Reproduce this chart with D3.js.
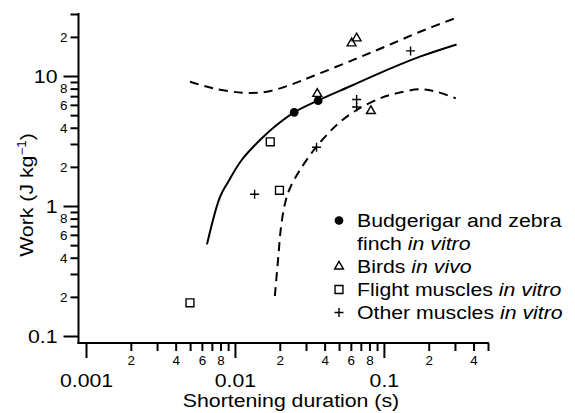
<!DOCTYPE html>
<html>
<head>
<meta charset="utf-8">
<script src="https://cdn.jsdelivr.net/npm/d3@7"></script>
<style>
  html, body { margin: 0; padding: 0; background: #fff; }
  svg { display: block; }
  text { font-family: "Liberation Sans", Arial, Helvetica, sans-serif; fill: #000; }
</style>
</head>
<body>
<svg id="chart" width="575" height="413"></svg>
<script>
// ---- data ----
const budgieX = [0.025, 0.0362];
const budgieY = [5.26, 6.46];

const birdsX = [0.0607, 0.0656, 0.0357, 0.0818];
const birdsY = [17.85, 19.5, 7.3, 5.38];

const flightX = [0.00499, 0.01726, 0.0199];
const flightY = [0.18, 3.12, 1.32];

const otherX = [0.01355, 0.0353, 0.0656, 0.0656, 0.151];
const otherY = [1.23, 2.83, 6.6, 5.78, 15.6];

const fitX = [0.00649, 0.00792, 0.00902, 0.0111, 0.01473, 0.01905, 0.025, 0.0361, 0.0622, 0.1042, 0.1746, 0.3076];
const fitY = [0.507, 1.167, 1.54, 2.26, 3.22, 4.2, 5.26, 6.48, 8.53, 11.1, 14.1, 17.5];

const upperX = [0.00499, 0.00714, 0.01138, 0.01634, 0.0234, 0.0335, 0.0622, 0.1042, 0.1746, 0.300];
const upperY = [9.04, 8.04, 7.44, 7.57, 8.53, 10.0, 13.3, 17.0, 21.9, 27.8];

const lowerX = [0.01853, 0.01955, 0.0204, 0.0217, 0.0234, 0.0273, 0.0353, 0.0482, 0.0656, 0.094, 0.1216, 0.1746, 0.226, 0.304];
const lowerY = [0.203, 0.407, 0.693, 1.05, 1.37, 1.89, 2.86, 4.2, 5.48, 6.73, 7.36, 7.9, 7.57, 6.73];

const xMajorTicks = [0.001, 0.01, 0.1];
const xMajorLabels = ["0.001", "0.01", "0.1"];
const xMinorTicks = [0.002,0.003,0.004,0.005,0.006,0.007,0.008,0.009,
                     0.02,0.03,0.04,0.05,0.06,0.07,0.08,0.09,
                     0.2,0.3,0.4,0.5];
const xMinorLabels = {0.002:"2",0.004:"4",0.006:"6",0.008:"8",0.02:"2",0.04:"4",0.06:"6",0.08:"8",0.2:"2",0.4:"4"};

const yMajorTicks = [0.1, 1, 10];
const yMajorLabels = ["0.1", "1", "10"];
const yMinorTicks = [0.2,0.3,0.4,0.5,0.6,0.7,0.8,0.9,
                     2,3,4,5,6,7,8,9, 20,30];
const yMinorLabels = {0.2:"2",0.4:"4",0.6:"6",0.8:"8",2:"2",4:"4",6:"6",8:"8",20:"2"};

const legendLabels = [
  {sym:"circle", lines:[[["Budgerigar and zebra", false]], [["finch ", false], ["in vitro", true]]]},
  {sym:"triangle", lines:[[["Birds ", false], ["in vivo", true]]]},
  {sym:"square", lines:[[["Flight muscles ", false], ["in vitro", true]]]},
  {sym:"plus", lines:[[["Other muscles ", false], ["in vitro", true]]]}
];

const STRETCH = 1.12; // reference glyphs are horizontally wider than Arial/Liberation

// ---- scales ----
const svg = d3.select("#chart");
const x = d3.scaleLog().domain([0.001, 0.5]).range([86, 488]);
const y = d3.scaleLog().domain([0.1, 30]).range([336, 14]);
const xAxisY = 343, yAxisX = 78.5;

function stretchText(sel, tx, ty, extra) {
  sel.attr("x", 0).attr("y", 0)
     .attr("transform", `translate(${tx},${ty}) ${extra || ""} scale(${STRETCH},1)`);
}

// ---- axes ----
const gx = svg.append("g").attr("transform", `translate(0,${xAxisY})`);
gx.call(d3.axisBottom(x).tickValues(xMinorTicks).tickSize(8).tickSizeOuter(0)
  .tickFormat(d => xMinorLabels[d] || ""));
gx.selectAll(".tick text").attr("font-size", 12).attr("dy", 0).each(function() { stretchText(d3.select(this), 0, 22); });
const gx2 = svg.append("g").attr("transform", `translate(0,${xAxisY})`);
gx2.call(d3.axisBottom(x).tickValues(xMajorTicks).tickSize(15).tickSizeOuter(0)
  .tickFormat((d,i) => xMajorLabels[i]));
gx2.selectAll(".tick text").attr("font-size", 19).attr("dy", 0).each(function() { stretchText(d3.select(this), 0, 44); });

const gy = svg.append("g").attr("transform", `translate(${yAxisX},0)`);
gy.call(d3.axisLeft(y).tickValues(yMinorTicks).tickSize(8).tickSizeOuter(0)
  .tickFormat(d => yMinorLabels[d] || ""));
gy.selectAll(".tick text").attr("font-size", 12).attr("dy", "0.36em").each(function() { stretchText(d3.select(this), -11, 0); });
const gy2 = svg.append("g").attr("transform", `translate(${yAxisX},0)`);
gy2.call(d3.axisLeft(y).tickValues(yMajorTicks).tickSize(15).tickSizeOuter(0)
  .tickFormat((d,i) => yMajorLabels[i]));
gy2.selectAll(".tick text").attr("font-size", 19).attr("dy", "0.36em").each(function() { stretchText(d3.select(this), -21, 0); });

svg.selectAll(".domain").remove();
svg.selectAll(".tick line").attr("stroke", "#000").attr("stroke-width", 2);
svg.selectAll(".tick text").attr("fill", "#000").attr("font-family", '"Liberation Sans", Arial, sans-serif');

// axis lines
svg.append("line").attr("x1", yAxisX).attr("x2", yAxisX).attr("y1", y(30) - 1).attr("y2", xAxisY + 1)
  .attr("stroke", "#000").attr("stroke-width", 2);
svg.append("line").attr("x1", yAxisX - 1).attr("x2", x(0.5) + 1).attr("y1", xAxisY).attr("y2", xAxisY)
  .attr("stroke", "#000").attr("stroke-width", 2);

// axis titles
const xt = svg.append("text").attr("text-anchor", "middle").attr("font-size", 19).text("Shortening duration (s)");
stretchText(xt, 291, 407);
const yt = svg.append("text").attr("text-anchor", "middle").attr("font-size", 19);
yt.append("tspan").text("Work (J kg");
yt.append("tspan").attr("font-size", 12).attr("dy", -7).text("\u22121");
yt.append("tspan").attr("dy", 7).text(")");
stretchText(yt, 33, 195, "rotate(-90)");

// ---- curves ----
const line = d3.line().x(d => x(d[0])).y(d => y(d[1])).curve(d3.curveCatmullRom.alpha(0.5));
const plot = svg.append("g");
plot.append("path").datum(d3.zip(fitX, fitY)).attr("d", line)
  .attr("fill", "none").attr("stroke", "#000").attr("stroke-width", 2);
plot.append("path").datum(d3.zip(upperX, upperY)).attr("d", line)
  .attr("fill", "none").attr("stroke", "#000").attr("stroke-width", 2).attr("stroke-dasharray", "9,6");
plot.append("path").datum(d3.zip(lowerX, lowerY)).attr("d", line)
  .attr("fill", "none").attr("stroke", "#000").attr("stroke-width", 2).attr("stroke-dasharray", "9,6");

// ---- symbols ----
const symPath = {
  circle: d3.symbol().type(d3.symbolCircle).size(60)(),
  triangle: d3.symbol().type(d3.symbolTriangle).size(34)(),
  square: d3.symbol().type(d3.symbolSquare).size(62)(),
  plus: "M-4.5,0H4.5M0,-4.5V4.5"
};
function drawSym(g, type, cx, cy) {
  const p = g.append("path").attr("d", symPath[type]).attr("transform", `translate(${cx},${cy})`);
  if (type === "circle") p.attr("fill", "#000").attr("stroke", "none");
  else p.attr("fill", "none").attr("stroke", "#000").attr("stroke-width", 1.4);
  return p;
}
d3.zip(flightX, flightY).forEach(d => drawSym(plot, "square", x(d[0]), y(d[1])));
d3.zip(otherX, otherY).forEach(d => drawSym(plot, "plus", x(d[0]), y(d[1])));
d3.zip(birdsX, birdsY).forEach(d => drawSym(plot, "triangle", x(d[0]), y(d[1])));
d3.zip(budgieX, budgieY).forEach(d => drawSym(plot, "circle", x(d[0]), y(d[1])));

// ---- legend ----
const leg = svg.append("g");
const symX = 339, textX = 357, lineH = 23;
let row = 0;
legendLabels.forEach(item => {
  const cy = 227 + row * lineH;
  drawSym(leg, item.sym, symX, cy - 6.5);
  item.lines.forEach(ln => {
    const t = leg.append("text").attr("font-size", 19);
    ln.forEach(([s, it]) => t.append("tspan").attr("font-style", it ? "italic" : "normal").text(s));
    stretchText(t, textX, 227 + row * lineH);
    row++;
  });
});
</script>
</body>
</html>
